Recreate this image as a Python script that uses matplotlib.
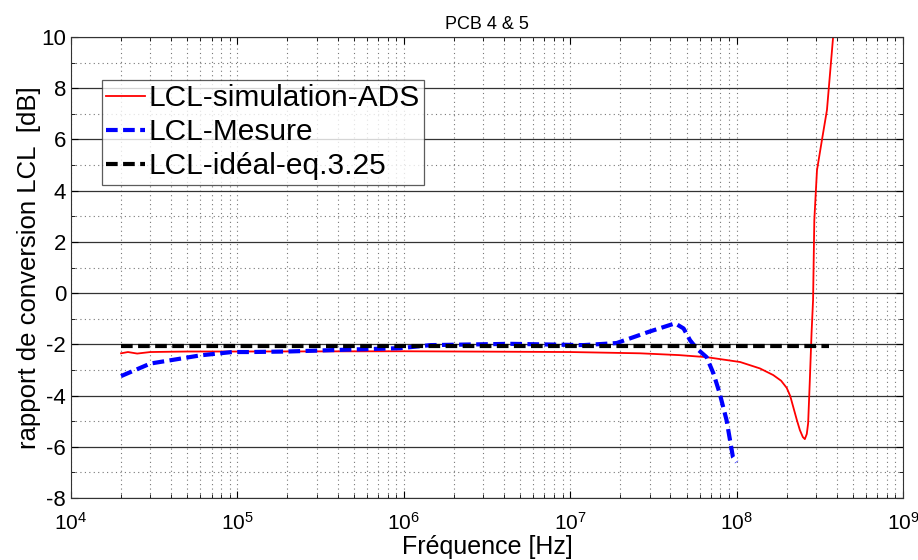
import matplotlib.pyplot as plt
import numpy as np

plt.rcParams['font.family'] = ['Liberation Sans', 'DejaVu Sans']
plt.rcParams['axes.unicode_minus'] = False

# LCL simulation ADS (red)
f_sim = [2e4, 2.2e4, 2.5e4, 3e4, 5e4, 1e5, 1e6, 1e7, 2.63e7, 4.5e7, 6.6e7, 1.05e8, 1.38e8,
         1.66e8, 1.85e8, 2.0e8, 2.1e8, 2.19e8, 2.3e8, 2.4e8, 2.5e8, 2.57e8, 2.64e8, 2.69e8,
         2.75e8, 2.82e8, 2.88e8, 2.93e8, 3.04e8, 3.26e8, 3.49e8, 3.8e8, 4e8]
lcl_sim = [-2.35, -2.3, -2.36, -2.3, -2.28, -2.28, -2.27, -2.3, -2.35, -2.42, -2.5, -2.69, -2.94,
           -3.2, -3.42, -3.7, -4.02, -4.45, -4.95, -5.35, -5.62, -5.7, -5.5, -5.08,
           -3.5, -1.56, -0.27, 2.85, 4.8, 6.0, 7.15, 10.0, 11.0]

# LCL mesure (blue)
f_mes = [2e4, 3e4, 6e4, 9.3e4, 1.2e5, 2e5, 5e5, 9.5e5, 1.45e6, 4.4e6, 1.2e7, 1.9e7, 3e7,
         4.27e7, 4.8e7, 5.25e7, 5.75e7, 6.6e7, 7.25e7, 7.9e7, 8.7e7, 9.5e7, 1e8]
lcl_mes = [-3.24, -2.75, -2.43, -2.3, -2.3, -2.28, -2.2, -2.15, -2.03, -1.98, -2.03, -1.95, -1.5,
           -1.18, -1.38, -1.84, -2.16, -2.5, -3.13, -3.9, -4.96, -6.4, -6.6]

# LCL ideal eq. 3.25 (black)
f_ideal = [2e4, 3.6e8]
lcl_ideal = [-2.05, -2.05]

fig = plt.figure(figsize=(9.18, 5.6), dpi=100)
ax = fig.add_axes([0.0773, 0.1107, 0.9064, 0.8232])

ax.semilogx(f_sim, lcl_sim, color='#ff0000', lw=1.3, label='LCL-simulation-ADS')
ax.semilogx(f_mes, lcl_mes, color='#0000ff', lw=3, ls=(0, (2.8, 1.3)), label='LCL-Mesure')
ax.semilogx(f_ideal, lcl_ideal, color='black', lw=3, ls=(0, (2.8, 1.3)), label='LCL-idéal-eq.3.25')

ax.set_xlim(1e4, 1e9)
ax.set_ylim(-8, 10)
ax.set_yticks(np.arange(-8, 11, 2))
ax.set_yticks(np.arange(-7, 10, 2), minor=True)
ax.yaxis.grid(True, which='major', color='#333333', lw=0.9, ls='-')
ax.yaxis.grid(True, which='minor', color='#777777', lw=0.8, ls=(0, (1, 3)))
ax.xaxis.grid(True, which='both', color='#777777', lw=0.8, ls=(0, (1, 3)))
ax.set_axisbelow(True)
ax.tick_params(which='both', direction='in', top=True, right=True, labelsize=16)
ax.tick_params(which='major', length=5, width=0.8)
ax.tick_params(which='minor', length=3, width=0.6)
ax.tick_params(axis='x', pad=10, labelsize=15)
for s in ax.spines.values():
    s.set_color('#333333')

ax.set_title('PCB 4 & 5', fontsize=13)
ax.set_xlabel('Fréquence [Hz]', fontsize=18)
ax.xaxis.set_label_coords(0.5, -0.08)
ax.set_ylabel('rapport de conversion LCL  [dB]', fontsize=18.5, labelpad=0)

leg = ax.legend(loc='upper left', bbox_to_anchor=(0.037, 0.907), fontsize=21.5,
                frameon=True, fancybox=False, handlelength=1.3, handletextpad=0.1,
                borderpad=0.15, labelspacing=0.2, borderaxespad=0)
leg.get_frame().set_edgecolor('#333333')
leg.get_frame().set_linewidth(0.9)

fig.savefig('out.png', dpi=100)
